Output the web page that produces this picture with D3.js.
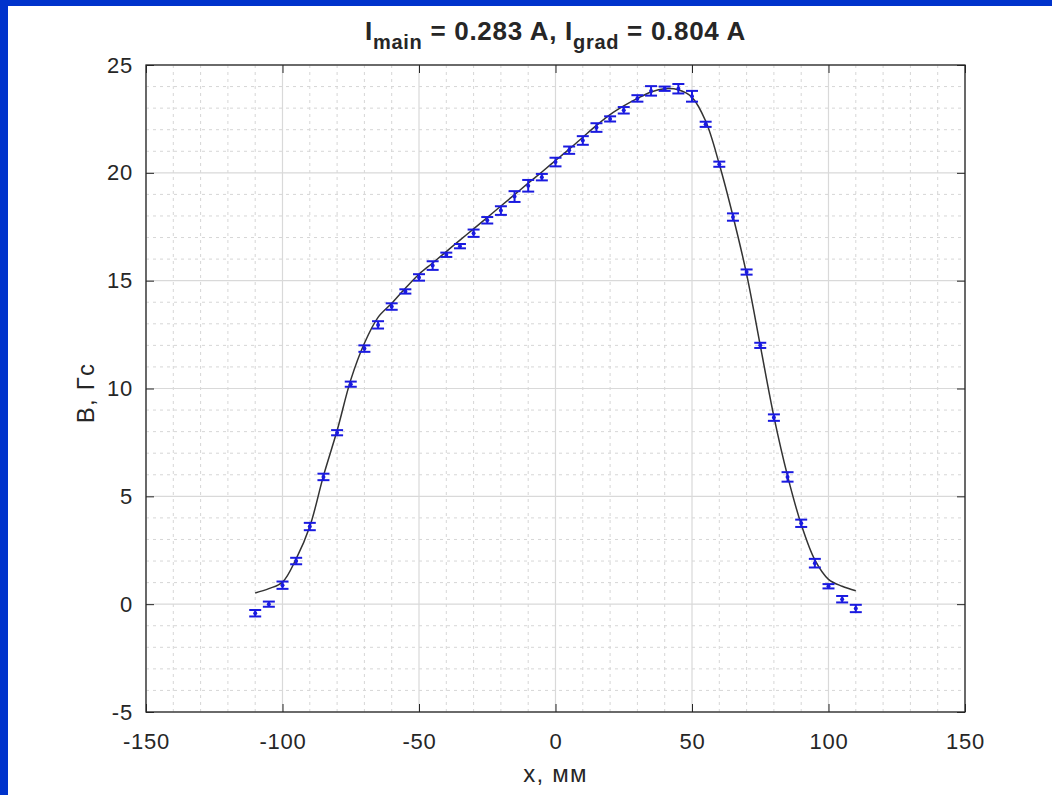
<!DOCTYPE html>
<html><head><meta charset="utf-8">
<script src="https://cdn.jsdelivr.net/npm/d3@7"></script>
<style>
html,body{margin:0;padding:0;background:#fff;}
svg{display:block;}
text{font-family:"Liberation Sans",Arial,Helvetica,sans-serif;fill:#262626;}
</style></head>
<body>
<script>
// ---- data ----
const xPos = [-110,-105,-100,-95,-90,-85,-80,-75,-70,-65,-60,-55,-50,-45,-40,-35,-30,-25,-20,-15,-10,-5,0,5,10,15,20,25,30,35,40,45,50,55,60,65,70,75,80,85,90,95,100,105,110];
const bMeas = [-0.42,0.0,0.88,2.0,3.6,5.9,7.95,10.2,11.85,12.95,13.8,14.5,15.15,15.7,16.2,16.6,17.2,17.8,18.25,18.9,19.4,19.8,20.5,21.05,21.5,22.1,22.5,22.9,23.45,23.8,23.9,23.9,23.55,22.25,20.4,17.95,15.4,12.0,8.65,5.9,3.75,1.9,0.83,0.23,-0.2];
const bErr = [0.15,0.12,0.17,0.15,0.17,0.15,0.12,0.12,0.15,0.17,0.15,0.1,0.15,0.2,0.1,0.1,0.17,0.15,0.2,0.25,0.27,0.15,0.2,0.17,0.2,0.2,0.12,0.15,0.15,0.22,0.1,0.22,0.25,0.12,0.12,0.17,0.12,0.12,0.15,0.22,0.17,0.2,0.1,0.15,0.17];
const fitX = [-110,-105,-100,-95,-90,-85,-80,-75,-70,-65,-60,-55,-50,-45,-40,-35,-30,-25,-20,-15,-10,-5,0,5,10,15,20,25,30,35,40,45,50,55,60,65,70,75,80,85,90,95,100,105,110];
const fitB = [0.52,0.72,1.02,2.1,3.6,5.95,8.05,10.4,12.1,13.3,13.95,14.65,15.3,15.82,16.35,16.88,17.4,17.93,18.46,18.99,19.52,20.04,20.57,21.1,21.65,22.2,22.7,23.1,23.45,23.75,23.9,23.85,23.5,22.4,20.4,18.0,15.3,12.0,8.7,5.95,3.7,2.05,1.15,0.83,0.62];
const xTicks = [-150,-100,-50,0,50,100,150];
const yTicks = [-5,0,5,10,15,20,25];

// ---- layout ----
const W = 1052, H = 795;
const L = 146, R = 965, T = 65, B = 712;
const svg = d3.select("body").append("svg").attr("width", W).attr("height", H);
svg.append("rect").attr("x",0).attr("y",0).attr("width",W).attr("height",H).attr("fill","#0033cc");
svg.append("rect").attr("x",8).attr("y",6).attr("width",W-8).attr("height",H-6).attr("fill","#ffffff");

const x = d3.scaleLinear().domain([-150,150]).range([L,R]);
const y = d3.scaleLinear().domain([-5,25]).range([B,T]);

const g = svg.append("g");
// minor grid
const xMinor = d3.range(-150,151,10).filter(v => v % 50 !== 0);
const yMinor = d3.range(-5,26,1).filter(v => v % 5 !== 0);
g.selectAll(".xm").data(xMinor).enter().append("line")
  .attr("x1",d=>x(d)).attr("x2",d=>x(d)).attr("y1",T).attr("y2",B)
  .attr("stroke","#d6d6d6").attr("stroke-width",1).attr("stroke-dasharray","3,4");
g.selectAll(".ym").data(yMinor).enter().append("line")
  .attr("y1",d=>y(d)).attr("y2",d=>y(d)).attr("x1",L).attr("x2",R)
  .attr("stroke","#d6d6d6").attr("stroke-width",1).attr("stroke-dasharray","3,4");
// major grid
g.selectAll(".xg").data(xTicks).enter().append("line")
  .attr("x1",d=>x(d)).attr("x2",d=>x(d)).attr("y1",T).attr("y2",B)
  .attr("stroke","#d9d9d9").attr("stroke-width",1.2);
g.selectAll(".yg").data(yTicks).enter().append("line")
  .attr("y1",d=>y(d)).attr("y2",d=>y(d)).attr("x1",L).attr("x2",R)
  .attr("stroke","#d9d9d9").attr("stroke-width",1.2);

// axes
const fmt = d => String(d);
const tickStyle = sel => { sel.select(".domain").remove(); sel.selectAll("line").attr("stroke","#262626"); sel.selectAll("text").attr("fill","#262626").style("font-size","22px").style("letter-spacing","0.8px"); };
svg.append("g").attr("transform",`translate(0,${B})`)
  .call(d3.axisBottom(x).tickValues(xTicks).tickSizeInner(-8).tickSizeOuter(0).tickPadding(21).tickFormat(fmt))
  .call(tickStyle);
svg.append("g").attr("transform",`translate(0,${T})`)
  .call(d3.axisTop(x).tickValues(xTicks).tickSizeInner(-8).tickSizeOuter(0).tickFormat(""))
  .call(tickStyle);
svg.append("g").attr("transform",`translate(${L},0)`)
  .call(d3.axisLeft(y).tickValues(yTicks).tickSizeInner(-8).tickSizeOuter(0).tickPadding(13).tickFormat(fmt))
  .call(tickStyle);
svg.append("g").attr("transform",`translate(${R},0)`)
  .call(d3.axisRight(y).tickValues(yTicks).tickSizeInner(-8).tickSizeOuter(0).tickFormat(""))
  .call(tickStyle);
svg.append("rect").attr("x",L).attr("y",T).attr("width",R-L).attr("height",B-T)
  .attr("fill","none").attr("stroke","#262626").attr("stroke-width",1.3);

// fit curve
const fitData = fitX.map((v,i)=>[v,fitB[i]]);
svg.append("path").datum(fitData)
  .attr("d", d3.line().x(d=>x(d[0])).y(d=>y(d[1])).curve(d3.curveCatmullRom))
  .attr("fill","none").attr("stroke","#333333").attr("stroke-width",1.5);

// error bars
const pts = xPos.map((v,i)=>({x:v,b:bMeas[i],e:bErr[i]}));
const eb = svg.append("g").attr("stroke","#1a1ae0").attr("stroke-width",2);
const cap = 6;
pts.forEach(p=>{
  eb.append("line").attr("x1",x(p.x)).attr("x2",x(p.x)).attr("y1",y(p.b-p.e)).attr("y2",y(p.b+p.e));
  eb.append("line").attr("x1",x(p.x)-cap).attr("x2",x(p.x)+cap).attr("y1",y(p.b-p.e)).attr("y2",y(p.b-p.e));
  eb.append("line").attr("x1",x(p.x)-cap).attr("x2",x(p.x)+cap).attr("y1",y(p.b+p.e)).attr("y2",y(p.b+p.e));
});
svg.append("g").selectAll("circle").data(pts).enter().append("circle")
  .attr("cx",d=>x(d.x)).attr("cy",d=>y(d.b)).attr("r",2).attr("fill","#1a1ae0");

// labels
svg.append("text").attr("x",(L+R)/2).attr("y",782).attr("text-anchor","middle")
  .style("font-size","24px").style("letter-spacing","1.2px").attr("fill","#262626").text("x, мм");
svg.append("text").attr("transform",`translate(94,393) rotate(-90)`).attr("text-anchor","middle")
  .style("font-size","24px").style("letter-spacing","1.2px").attr("fill","#262626").text("B, Гс");

const title = svg.append("text").attr("x",(L+R)/2).attr("y",40).attr("text-anchor","middle")
  .style("font-size","26px").style("font-weight","bold").style("letter-spacing","0.7px").attr("fill","#000");
title.append("tspan").text("I");
title.append("tspan").attr("dy",9).style("font-size","20px").text("main");
title.append("tspan").attr("dy",-9).text(" = 0.283 A, I");
title.append("tspan").attr("dy",9).style("font-size","20px").text("grad");
title.append("tspan").attr("dy",-9).text(" = 0.804 A");
</script>
</body></html>
